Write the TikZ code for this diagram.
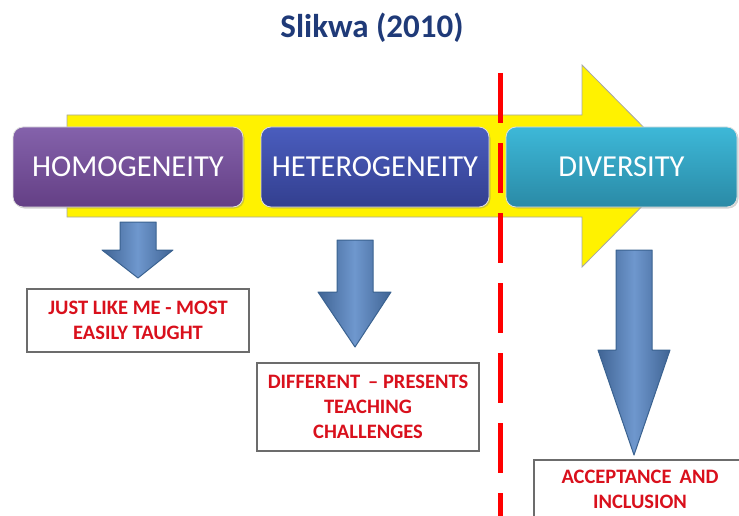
\documentclass[tikz,border=0pt]{standalone}
\usepackage{fontspec}
\setmainfont{Carlito}
\usetikzlibrary{shadows}
\definecolor{titleblue}{HTML}{1F3A78}
\definecolor{redtxt}{HTML}{D9101C}
\definecolor{arrowblue}{HTML}{5585C5}
\definecolor{arrowedge}{HTML}{3A6290}
\definecolor{homtop}{HTML}{8462AB}
\definecolor{hombot}{HTML}{643F85}
\definecolor{hettop}{HTML}{4A5DBE}
\definecolor{hetbot}{HTML}{333F8F}
\definecolor{divtop}{HTML}{3DB8D8}
\definecolor{divbot}{HTML}{2A8AA6}
\tikzset{
  x=1pt, y=-1pt,
  stage/.style={rounded corners=10pt, minimum width=#1, minimum height=80pt,
    text=white, font=\fontsize{30.5}{33}\selectfont, inner sep=0pt,
    draw=white!75!gray, line width=0.8pt,
    drop shadow={shadow xshift=1.5pt, shadow yshift=-1.5pt, opacity=0.35}},
  notebox/.style={draw=gray!85!black, line width=1.5pt, fill=white, align=center,
    text=redtxt, font=\fontsize{20.5}{25}\selectfont\bfseries, inner sep=0pt,
    minimum width=#1},
  blockarrow/.style={left color=arrowblue!75!black, right color=arrowblue!75!black,
    middle color=arrowblue!85!white, draw=arrowedge, line width=1pt, line join=round},
  redline/.style={draw=red, line width=5pt, dash pattern=on 50pt off 20pt}
}
\begin{document}
\begin{tikzpicture}
\useasboundingbox (0,0) rectangle (739,516);
% title
\node[font=\fontsize{33}{36}\selectfont\bfseries, text=titleblue] (title) at (372,28) {Slikwa (2010)};
% big yellow arrow
\draw[fill=yellow, draw=gray!70, line width=0.8pt]
  (67,115) -- (582,115) -- (582,65) -- (682,166) -- (582,267) -- (582,217) -- (67,217) -- cycle;
% stage boxes
\node[stage=230pt, top color=homtop, bottom color=hombot] (hom) at (128,167) {HOMOGENEITY};
\node[stage=228pt, top color=hettop, bottom color=hetbot] (het) at (375,167) {HETEROGENEITY};
\node[stage=231pt, top color=divtop, bottom color=divbot] (div) at (621.5,167) {DIVERSITY};
% red dashed divider
\coordinate (dtop) at (500,73);
\coordinate (dbot) at (500,530);
\draw[redline] (dtop) -- (dbot);
% note boxes
\node[notebox=222pt, minimum height=63pt] (n1) at (138,320.5) {JUST LIKE ME - MOST\\EASILY TAUGHT};
\node[notebox=222pt, minimum height=88pt] (n2) at (368,407) {DIFFERENT \,– PRESENTS\\TEACHING\\CHALLENGES};
\node[notebox=212pt, minimum height=80pt, anchor=north] (n3) at (640,459) {};
\node[align=center, text=redtxt, font=\fontsize{20.5}{25}\selectfont\bfseries, anchor=north] (n3t) at (640,467) {ACCEPTANCE \,AND\\INCLUSION};
% blue block arrows
\draw[blockarrow] (120,222) -- (156,222) -- (156,250) -- (173,250) -- (138,278) -- (102,250) -- (120,250) -- cycle;
\draw[blockarrow] (337,240) -- (373,240) -- (373,292) -- (391,292) -- (355,347) -- (318,292) -- (337,292) -- cycle;
\draw[blockarrow] (616,250) -- (652,250) -- (652,350) -- (670,350) -- (634,455) -- (598,350) -- (616,350) -- cycle;
\end{tikzpicture}
\end{document}
